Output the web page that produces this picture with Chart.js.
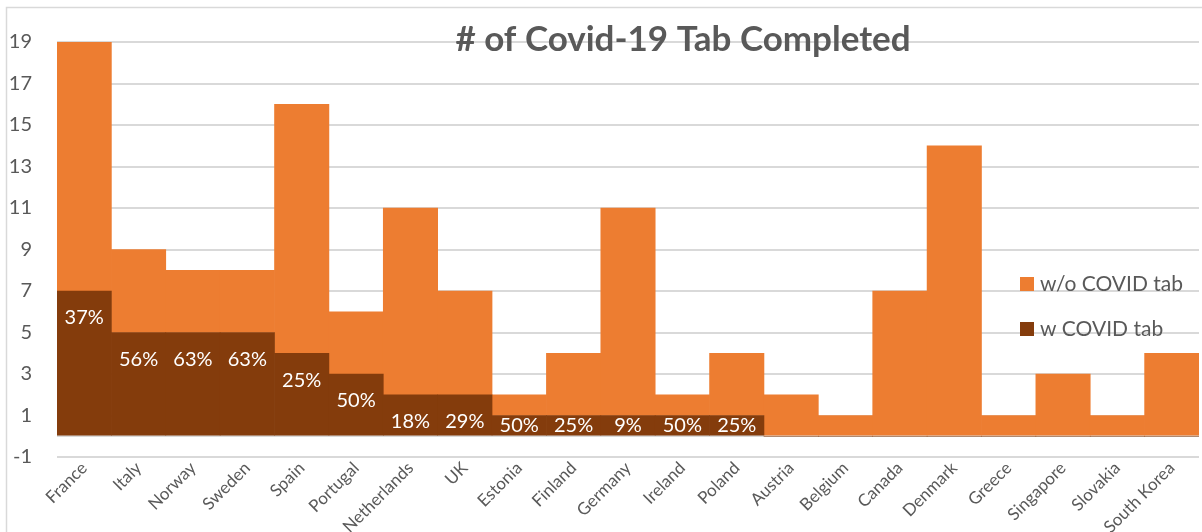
<!DOCTYPE html>
<html>
<head>
<meta charset="utf-8">
<script src="https://cdn.jsdelivr.net/npm/chart.js@4.4.1/dist/chart.umd.min.js"></script>
<style>
  html, body { margin: 0; padding: 0; background: #fff; }
</style>
</head>
<body>
<canvas id="chart" width="1202" height="532"></canvas>
<script>
const countries = ['France', 'Italy', 'Norway', 'Sweden', 'Spain', 'Portugal', 'Netherlands', 'UK',
  'Estonia', 'Finland', 'Germany', 'Ireland', 'Poland', 'Austria', 'Belgium', 'Canada', 'Denmark',
  'Greece', 'Singapore', 'Slovakia', 'South Korea'];
const withTab = [7, 5, 5, 5, 4, 3, 2, 2, 1, 1, 1, 1, 1, 0, 0, 0, 0, 0, 0, 0, 0];
const withoutTab = [12, 4, 3, 3, 12, 3, 9, 5, 1, 3, 10, 1, 3, 2, 1, 7, 14, 1, 3, 1, 4];
const pctLabels = ['37%', '56%', '63%', '63%', '25%', '50%', '18%', '29%', '50%', '25%', '9%', '50%', '25%',
  '', '', '', '', '', '', '', ''];
const yTicks = [-1, 1, 3, 5, 7, 9, 11, 13, 15, 17, 19];

const FONT = 'Lato, "Open Sans", sans-serif';
const TEXT = '#595959';

// outer frame of the chart object
const frame = {
  id: 'frame',
  beforeDraw(chart) {
    const ctx = chart.ctx;
    ctx.save();
    ctx.strokeStyle = '#d9d9d9';
    ctx.lineWidth = 1.5;
    ctx.strokeRect(6.5, 7.5, 1220, 540);
    ctx.restore();
  }
};

// white % labels inside the dark bars
const pctPlugin = {
  id: 'pct',
  afterDatasetsDraw(chart) {
    const ctx = chart.ctx;
    const meta = chart.getDatasetMeta(0);
    ctx.save();
    ctx.fillStyle = '#fff';
    ctx.font = '20px ' + FONT;
    ctx.textAlign = 'center';
    ctx.textBaseline = 'middle';
    meta.data.forEach((bar, i) => {
      if (!pctLabels[i]) return;
      const y = Math.min(bar.y + 27, bar.base - 10);
      ctx.fillText(pctLabels[i], bar.x, y);
    });
    ctx.restore();
  }
};

// title and legend sit on top of the plot, like the original
const overlay = {
  id: 'overlay',
  afterDraw(chart) {
    const ctx = chart.ctx;
    ctx.save();
    ctx.fillStyle = TEXT;
    ctx.font = 'bold 35px ' + FONT;
    ctx.textAlign = 'center';
    ctx.textBaseline = 'middle';
    ctx.fillText('# of Covid-19 Tab Completed', 683, 40);

    const items = [chart.data.datasets[1], chart.data.datasets[0]];
    ctx.font = '21px ' + FONT;
    ctx.textAlign = 'left';
    items.forEach((ds, k) => {
      const y = 277 + k * 45;
      ctx.fillStyle = ds.backgroundColor;
      ctx.fillRect(1020, y, 14, 14);
      ctx.fillStyle = TEXT;
      ctx.fillText(ds.label, 1040, y + 7);
    });
    ctx.restore();
  }
};

new Chart(document.getElementById('chart'), {
  type: 'bar',
  data: {
    labels: countries,
    datasets: [
      { label: 'w COVID tab', data: withTab, backgroundColor: '#843c0c' },
      { label: 'w/o COVID tab', data: withoutTab, backgroundColor: '#ed7d31' }
    ]
  },
  options: {
    responsive: false,
    animation: false,
    categoryPercentage: 1,
    barPercentage: 1,
    layout: { padding: { top: 42, right: 3, left: 0, bottom: 0 } },
    plugins: {
      legend: { display: false },
      title: { display: false },
      tooltip: { enabled: false }
    },
    scales: {
      x: {
        stacked: true,
        grid: { display: false, drawTicks: false },
        border: { display: false },
        ticks: {
          color: TEXT,
          font: { family: FONT, size: 17 },
          minRotation: 45,
          maxRotation: 45,
          padding: 1,
          autoSkip: false
        },
        afterFit(scale) { scale.height = 75; }
      },
      y: {
        stacked: true,
        min: -1,
        max: 19,
        grid: { color: '#d9d9d9', lineWidth: 2, drawTicks: false },
        border: { display: false },
        ticks: {
          color: TEXT,
          font: { family: FONT, size: 20 },
          padding: 25,
          callback: v => (v === 0 ? '' : v)
        },
        afterBuildTicks(axis) {
          axis.ticks = yTicks.concat([0]).sort((a, b) => a - b).map(v => ({ value: v }));
        },
        afterFit(scale) { scale.width = 57; }
      }
    }
  },
  plugins: [frame, pctPlugin, overlay]
});
</script>
</body>
</html>
